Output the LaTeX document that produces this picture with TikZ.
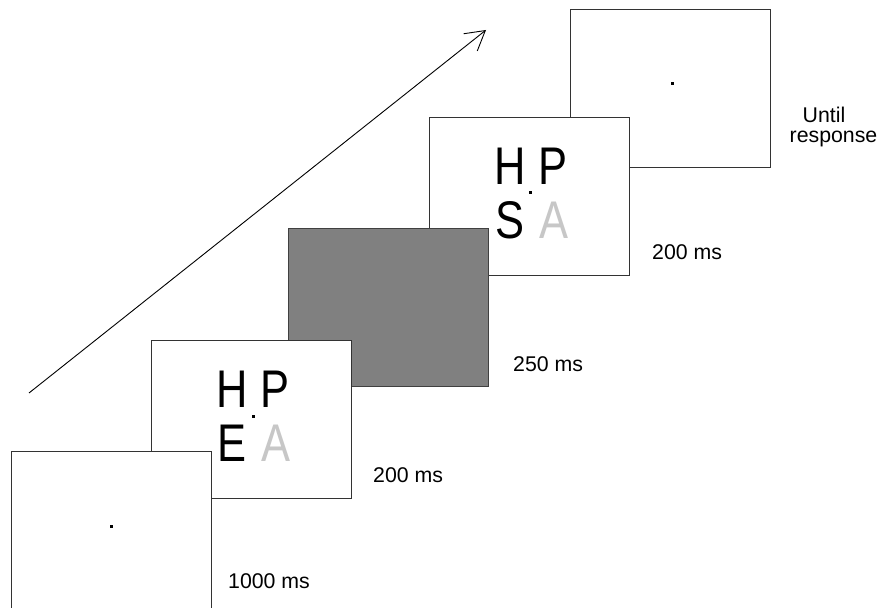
\documentclass[tikz,border=0pt]{standalone}
\usepackage{fontspec}
\setmainfont{Liberation Sans}
\usetikzlibrary{arrows.meta,calc,positioning}
\definecolor{faint}{gray}{0.78}
\newcommand{\seg}[1]{\scalebox{0.82}[1]{#1}}

\begin{document}
\begin{tikzpicture}[x=1pt,y=1pt,
  frame/.style={draw=black!80,fill=white,line width=0.8pt,minimum width=200pt,minimum height=158pt,inner sep=0pt},
  blank/.style={frame,fill=gray,draw=black!75},
  letter/.style={inner sep=0pt,font=\fontsize{53}{53}\selectfont},
  fixdot/.style={fill=black,minimum size=3pt,inner sep=0pt},
  dur/.style={anchor=west,inner sep=0pt,font=\fontsize{21.3}{20}\selectfont}]
  \useasboundingbox (0,0) rectangle (879,608);
  % time arrow
  \coordinate (t0) at (29,215);
  \coordinate (t1) at (486,578);
  \draw[line width=0.9pt,-{Straight Barb[length=19pt,width=22pt]}] (t0) -- (t1);
  % screens, back to front
  \node[frame] (f5) at (670.5,519.5) {};
  \node[frame] (f4) at (529.5,411.5) {};
  \node[blank] (f3) at (388,301) {};
  \node[frame] (f2) at (251.5,188.5) {};
  \node[frame] (f1) at (111.5,77.5) {};
  % fixation dots
  \node[fixdot] (d1) at ($(f1)+(0,4)$) {};
  \node[fixdot] (d2) at ($(f2)+(1.5,2.5)$) {};
  \node[fixdot] (d4) at ($(f4)+(1,4)$) {};
  \node[fixdot] (d5) at ($(f5)+(2,5)$) {};
  % letter displays
  \node[letter] (h2) at ($(f2)+(-19.5,30)$) {\seg{H}};
  \node[letter] (p2) at ($(f2)+(23.5,30)$) {\seg{P}};
  \node[letter] (e2) at ($(f2)+(-19.5,-24)$) {\seg{E}};
  \node[letter,text=faint] (a2) at ($(f2)+(24,-24)$) {\seg{A}};
  \node[letter] (h4) at ($(f4)+(-19.5,30)$) {\seg{H}};
  \node[letter] (p4) at ($(f4)+(23.5,30)$) {\seg{P}};
  \node[letter] (s4) at ($(f4)+(-19.5,-24)$) {\seg{S}};
  \node[letter,text=faint] (a4) at ($(f4)+(24,-24)$) {\seg{A}};
  % durations
  \node[dur] (l1) at (228,26.5) {1000 ms};
  \node[dur] (l2) at (373,132.5) {200 ms};
  \node[dur] (l3) at (513,244) {250 ms};
  \node[dur] (l4) at (652,356) {200 ms};
  \node[dur,anchor=north east,align=left] (l5) at (877.5,501) {\hspace*{13pt}Until\\response};
\end{tikzpicture}
\end{document}
